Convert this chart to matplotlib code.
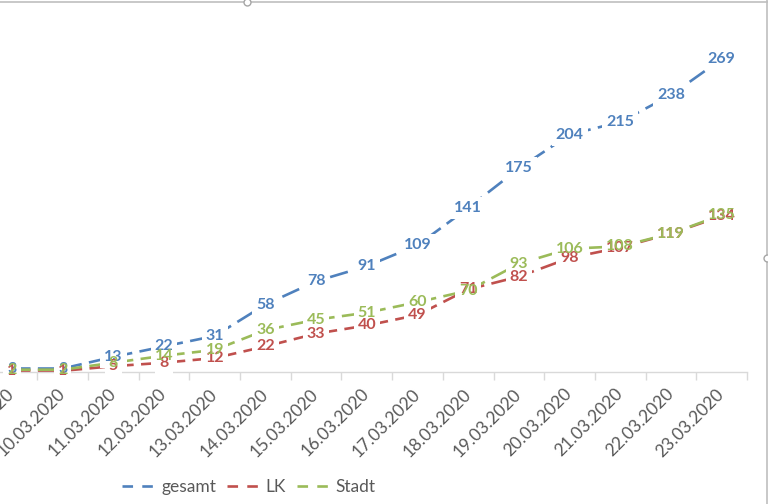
import numpy as np
import matplotlib.pyplot as plt
from matplotlib.lines import Line2D

# Daten (Fallzahlen)
dates = ['09.03.2020', '10.03.2020', '11.03.2020', '12.03.2020', '13.03.2020',
         '14.03.2020', '15.03.2020', '16.03.2020', '17.03.2020', '18.03.2020',
         '19.03.2020', '20.03.2020', '21.03.2020', '22.03.2020', '23.03.2020']
gesamt = [3, 3, 13, 22, 31, 58, 78, 91, 109, 141, 175, 204, 215, 238, 269]
lk = [1, 1, 5, 8, 12, 22, 33, 40, 49, 71, 82, 98, 107, 119, 134]
stadt = [2, 2, 8, 14, 19, 36, 45, 51, 60, 70, 93, 106, 108, 119, 135]

series = [('gesamt', gesamt, '#4F81BD'),
          ('LK', lk, '#C0504D'),
          ('Stadt', stadt, '#9BBB59')]

plt.rcParams['font.family'] = ['Lato', 'DejaVu Sans']

W, H = 768, 504
fig = plt.figure(figsize=(W / 100, H / 100), dpi=100)
ax = fig.add_axes([0, (H - 372) / H, 747 / W, (372 - 23) / H])

x = np.arange(len(dates))
for name, vals, col in series:
    ax.plot(x, vals, color=col, lw=1.9, dashes=(7, 2.8), label=name, zorder=2)

# weisse Kaesten unter den Beschriftungen -> Luecken in den Linien
for name, vals, col in series:
    for xi, v in zip(x, vals):
        ax.text(xi, v, str(v), ha='center', va='center', fontsize=11.5,
                fontweight='bold', color='none', zorder=3,
                bbox=dict(boxstyle='square,pad=0.25', fc='white', ec='none'))
for name, vals, col in series:
    for xi, v in zip(x, vals):
        ax.text(xi, v, str(v), ha='center', va='center', fontsize=11.5,
                fontweight='bold', color=col, zorder=4)

ax.set_xlim(-0.237, 14.5)
ax.set_ylim(0, 300)
for s in ['top', 'right', 'left']:
    ax.spines[s].set_visible(False)
ax.spines['bottom'].set_color('#D9D9D9')
ax.spines['bottom'].set_linewidth(1)
ax.set_yticks([])

ax.set_xticks(x)
ax.set_xticklabels(dates, rotation=45, ha='right', va='center',
                   rotation_mode='anchor', color='#595959', fontsize=12.5)
ax.tick_params(axis='x', which='major', length=0, pad=14)
ax.set_xticks(x + 0.5, minor=True)
ax.tick_params(axis='x', which='minor', length=6, color='#D9D9D9', width=1)

leg = ax.legend(loc='center', bbox_to_anchor=(249 / 747, -(487 - 372) / 349),
                ncol=3, frameon=False, fontsize=12.5, handlelength=2.2,
                columnspacing=0.6, handletextpad=0.05, labelcolor='#595959')
for hl in leg.get_lines():
    hl.set_dashes((4, 3.5))

# Rahmen der Diagrammauswahl
fig.add_artist(Line2D([0, 1], [1 - 2 / H, 1 - 2 / H], color='#BFBFBF', lw=1.2))
fig.add_artist(Line2D([1 - 1 / W, 1 - 1 / W], [0, 1], color='#BFBFBF', lw=1.2))
fig.add_artist(Line2D([247 / W], [1 - 2 / H], marker='o', ms=5, mfc='white',
                      mec='#A6A6A6', lw=0))
fig.add_artist(Line2D([1 - 1 / W], [1 - 258 / H], marker='o', ms=5, mfc='white',
                      mec='#A6A6A6', lw=0))

fig.savefig('out.png', dpi=100)
